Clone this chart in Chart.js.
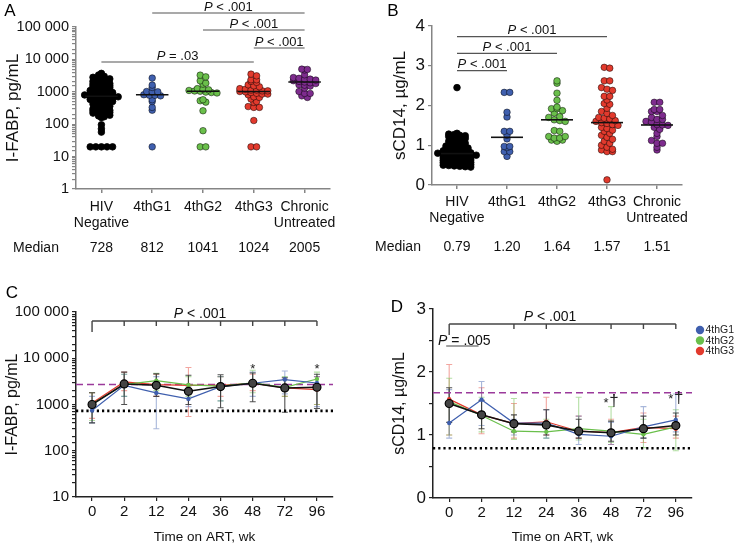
<!DOCTYPE html>
<html>
<head>
<meta charset="utf-8">
<script src="https://cdn.jsdelivr.net/npm/chart.js@4.4.1/dist/chart.umd.min.js"></script>
<style>
    body { margin: 0; background: #fff; width: 735px; height: 545px; position: relative; overflow: hidden; }
    canvas { position: absolute; }
</style>
</head>
<body>
<canvas id="panelA" width="365" height="270" style="left:0;top:0"></canvas>
<canvas id="panelB" width="370" height="270" style="left:365px;top:0"></canvas>
<canvas id="panelC" width="365" height="275" style="left:0;top:270px"></canvas>
<canvas id="panelD" width="370" height="275" style="left:365px;top:270px"></canvas>
<script>
// ---------- data ----------
const groupLabels = [["HIV", "Negative"], "4thG1", "4thG2", "4thG3", ["Chronic", "Untreated"]];

// A: I-FABP, pg/mL
const fabpHivNeg = [3700, 3300, 3000, 2800, 2700, 2600, 2500, 2400, 2300, 2200, 2100, 2000, 1900, 1800, 1750, 1700, 1600, 1550, 1500, 1450, 1400, 1350, 1300, 1250, 1200, 1150, 1100, 1050, 1000, 980, 950, 920, 900, 870, 850, 820, 800, 780, 760, 740, 728, 720, 700, 680, 660, 640, 620, 600, 580, 560, 540, 520, 500, 480, 460, 440, 420, 400, 380, 360, 340, 320, 300, 290, 280, 270, 260, 250, 240, 230, 220, 210, 200, 190, 180, 170, 160, 96, 72, 57, 20, 20, 20, 20, 20];
const fabpG1 = [2650, 1610, 1360, 1020, 1000, 1000, 812, 780, 780, 750, 570, 500, 330, 270, 20];
const fabpG2 = [3260, 2890, 2180, 1850, 1720, 1250, 1200, 1150, 1100, 1060, 1041, 980, 950, 920, 570, 530, 480, 260, 63, 20, 20];
const fabpG3 = [3500, 3110, 2350, 2350, 2100, 1950, 1640, 1530, 1430, 1250, 1200, 1130, 1130, 1070, 1070, 1024, 1000, 950, 900, 850, 850, 810, 700, 670, 600, 500, 470, 350, 330, 330, 130, 20, 20];
const fabpChronic = [5000, 4900, 4700, 3350, 2750, 2600, 2460, 2460, 2300, 2200, 2100, 2005, 1900, 1800, 1640, 1600, 1500, 1300, 1020, 890, 890, 750, 670];
const fabpMedians = [728, 812, 1041, 1024, 2005];

// B: sCD14, µg/mL
const cd14HivNeg = [2.45, 1.30, 1.28, 1.27, 1.25, 1.24, 1.22, 1.20, 1.18, 1.17, 1.15, 1.13, 1.12, 1.10, 1.08, 1.07, 1.05, 1.03, 1.02, 1.00, 0.98, 0.97, 0.95, 0.94, 0.93, 0.92, 0.90, 0.89, 0.88, 0.87, 0.86, 0.85, 0.84, 0.83, 0.82, 0.81, 0.80, 0.79, 0.79, 0.78, 0.78, 0.77, 0.76, 0.75, 0.74, 0.73, 0.72, 0.71, 0.70, 0.69, 0.68, 0.67, 0.66, 0.65, 0.64, 0.63, 0.62, 0.61, 0.60, 0.59, 0.58, 0.57, 0.56, 0.55, 0.54, 0.53, 0.52, 0.51, 0.50, 0.49, 0.48, 0.47, 0.46, 0.45];
const cd14G1 = [2.33, 2.33, 1.83, 1.71, 1.35, 1.35, 1.25, 1.16, 0.97, 0.94, 0.97, 0.84, 0.84, 0.72];
const cd14G2 = [2.62, 2.56, 2.31, 2.13, 1.96, 1.92, 1.92, 1.87, 1.81, 1.72, 1.70, 1.64, 1.62, 1.60, 1.37, 1.35, 1.22, 1.18, 1.13, 1.10, 1.13, 1.18, 1.22];
const cd14G3 = [2.96, 2.94, 2.62, 2.62, 2.45, 2.41, 2.38, 2.23, 2.23, 2.14, 2.05, 2.03, 1.93, 1.85, 1.80, 1.75, 1.70, 1.68, 1.66, 1.62, 1.60, 1.57, 1.55, 1.52, 1.50, 1.45, 1.42, 1.38, 1.35, 1.30, 1.25, 1.20, 1.15, 1.10, 1.05, 1.00, 0.95, 0.90, 0.88, 0.84, 0.84, 0.13];
const cd14Chronic = [2.08, 2.08, 1.90, 1.85, 1.90, 1.85, 1.75, 1.70, 1.65, 1.60, 1.65, 1.58, 1.52, 1.51, 1.50, 1.45, 1.40, 1.30, 1.22, 1.12, 1.05, 1.05, 0.95, 0.88];
const cd14Medians = [0.79, 1.20, 1.64, 1.57, 1.51];

// C and D: time on ART
const weeks = ["0", "2", "12", "24", "36", "48", "72", "96"];

const fabpAllWk = [1000, 2780, 2600, 1930, 2440, 2880, 2280, 2360];
const fabpAllLo = [400, 1000, 1500, 1000, 850, 1150, 680, 820];
const fabpAllHi = [1800, 5000, 4600, 4300, 4400, 4800, 3800, 4500];
const fabpG1Wk = [740, 2600, 1780, 1320, 2440, 2880, 3460, 2920];
const fabpG1Lo = [400, 1500, 300, 900, 1200, 1500, 1700, 900];
const fabpG1Hi = [1500, 4500, 4000, 2500, 4000, 5000, 5300, 4000];
const fabpG2Wk = [1030, 2700, 3290, 2650, 2500, 2950, 2350, 3560];
const fabpG2Lo = [450, 1500, 2000, 1500, 1200, 1800, 1500, 1000];
const fabpG2Hi = [1800, 4500, 4700, 4000, 4000, 5500, 4000, 5000];
const fabpG3Wk = [1080, 3070, 2700, 2600, 2600, 2880, 2280, 2100];
const fabpG3Lo = [500, 2000, 1500, 550, 1500, 2000, 1500, 1000];
const fabpG3Hi = [1800, 5000, 4500, 6300, 4000, 4500, 3500, 4000];
const fabpChronicRef = 2700;
const fabpHivNegRef = 728;

const cd14AllWk = [1.50, 1.32, 1.18, 1.16, 1.06, 1.035, 1.10, 1.15];
const cd14AllLo = [1.20, 1.10, 1.05, 1.00, 0.95, 0.90, 0.95, 1.00];
const cd14AllHi = [1.75, 1.55, 1.32, 1.40, 1.25, 1.22, 1.30, 1.35];
const cd14G1Wk = [1.19, 1.56, 1.19, 1.19, 1.01, 0.98, 1.13, 1.24];
const cd14G1Lo = [0.95, 1.15, 1.00, 0.95, 0.85, 0.85, 0.95, 1.05];
const cd14G1Hi = [1.72, 1.85, 1.25, 1.40, 1.30, 1.20, 1.45, 1.65];
const cd14G2Wk = [1.53, 1.31, 1.06, 1.05, 1.10, 1.06, 1.01, 1.13];
const cd14G2Lo = [1.00, 1.05, 0.93, 0.95, 0.92, 0.88, 0.80, 0.75];
const cd14G2Hi = [1.90, 1.60, 1.58, 1.25, 1.60, 1.45, 1.25, 1.40];
const cd14G3Wk = [1.57, 1.32, 1.18, 1.21, 1.06, 1.04, 1.12, 1.10];
const cd14G3Lo = [1.00, 1.02, 0.95, 1.00, 0.95, 0.85, 0.88, 0.95];
const cd14G3Hi = [2.12, 1.75, 1.50, 1.60, 1.30, 1.25, 1.35, 1.30];
const cd14ChronicRef = 1.67;
const cd14HivNegRef = 0.79;

// ---------- style ----------
const FONT = '"Liberation Sans", Arial, Helvetica, sans-serif';
Chart.defaults.font.family = FONT;
Chart.defaults.color = "#111";
const GRAY = "#858585";
const groupColors = ["#000000", "#3f5fae", "#6abf4b", "#e23a2d", "#7e2c8e"];
const BLUE = groupColors[1], GREEN = groupColors[2], RED = groupColors[3], PURPLE = "#9b3a9b";

// beeswarm: points in the same value band are spread sideways around the group centre
function swarm(values, center, band, toUnit) {
    const rows = {};
    values.forEach(v => {
        const k = Math.round(toUnit(v) / band);
        (rows[k] = rows[k] || []).push(v);
    });
    const pts = [];
    Object.values(rows).forEach(r => {
        r.forEach((v, i) => pts.push({ x: center + (i - (r.length - 1) / 2) * 0.11, y: v }));
    });
    return pts;
}

function isPow10(v) {
    const e = Math.log10(v);
    return Math.abs(e - Math.round(e)) < 1e-9;
}
function fmtLog(v) {
    if (!isPow10(v)) return "";
    return v >= 10000 ? v.toLocaleString("en-US").replace(/,/g, " ") : String(v);
}

// italic P followed by the rest, centred on x
function pLabel(ctx, x, y, rest, size) {
    ctx.save();
    ctx.fillStyle = "#111";
    ctx.textAlign = "left";
    ctx.textBaseline = "alphabetic";
    ctx.font = "italic " + size + "px " + FONT;
    const w1 = ctx.measureText("P").width;
    ctx.font = size + "px " + FONT;
    const w2 = ctx.measureText(rest).width;
    const x0 = x - (w1 + w2) / 2;
    ctx.font = "italic " + size + "px " + FONT;
    ctx.fillText("P", x0, y);
    ctx.font = size + "px " + FONT;
    ctx.fillText(rest, x0 + w1, y);
    ctx.restore();
}

function hLine(ctx, x1, x2, y, color, width) {
    ctx.beginPath();
    ctx.moveTo(x1, y);
    ctx.lineTo(x2, y);
    ctx.strokeStyle = color;
    ctx.lineWidth = width;
    ctx.stroke();
}

function letter(ctx, txt, x, y) {
    ctx.save();
    ctx.font = "17px " + FONT;
    ctx.fillStyle = "#000";
    ctx.textAlign = "center";
    ctx.textBaseline = "middle";
    ctx.fillText(txt, x, y);
    ctx.restore();
}

// ---------- dot plots (A, B) ----------
function dotPlot(id, cfg) {
    const datasets = cfg.groups.map((vals, i) => ({
        data: swarm(vals, i, cfg.bands[i], cfg.toUnit),
        backgroundColor: groupColors[i],
        borderColor: i === 0 ? "#000" : "rgba(0,0,0,0.6)",
        borderWidth: 0.8,
        pointRadius: 3.3,
    }));

    const notes = {
        id: "notes",
        afterDatasetsDraw(chart) {
            const { ctx, scales: { x, y } } = chart;
            ctx.save();
            // median bars
            cfg.medians.forEach((m, i) => {
                hLine(ctx, x.getPixelForValue(i - 0.32), x.getPixelForValue(i + 0.32), y.getPixelForValue(m), "#111", 1.6);
            });
            // significance bars
            cfg.sig.forEach(([a, b, py, txt]) => {
                const x1 = x.getPixelForValue(a), x2 = x.getPixelForValue(b);
                hLine(ctx, x1, x2, py, "#555", 1.2);
                pLabel(ctx, (x1 + x2) / 2, py - 2.5, txt, 13);
            });
            // median row
            ctx.font = "14px " + FONT;
            ctx.fillStyle = "#111";
            ctx.textBaseline = "middle";
            ctx.textAlign = "left";
            ctx.fillText("Median", cfg.medianX, cfg.medianY);
            ctx.textAlign = "center";
            cfg.medians.forEach((m, i) => ctx.fillText(cfg.fmtMedian(m), x.getPixelForValue(i), cfg.medianY));
            ctx.restore();
            letter(ctx, cfg.letter[0], cfg.letter[1], cfg.letter[2]);
        },
    };

    new Chart(document.getElementById(id), {
        type: "scatter",
        data: { datasets },
        options: {
            responsive: false,
            animation: false,
            devicePixelRatio: 1,
            layout: { padding: cfg.padding },
            plugins: { legend: { display: false }, tooltip: { enabled: false } },
            scales: {
                x: {
                    type: "linear",
                    min: -0.5,
                    max: 4.5,
                    afterBuildTicks: s => { s.ticks = groupLabels.map((_, i) => ({ value: i })); },
                    afterFit: s => { s.height = cfg.xHeight; },
                    border: { color: GRAY, width: 1.5 },
                    grid: { drawOnChartArea: false, drawTicks: true, tickLength: 4, color: GRAY, lineWidth: 1.5 },
                    ticks: {
                        autoSkip: false,
                        maxRotation: 0,
                        padding: cfg.xPad,
                        font: { size: 14, lineHeight: 1.15 },
                        color: "#111",
                        callback: v => groupLabels[Math.round(v)],
                    },
                },
                y: Object.assign({
                    afterFit: s => { s.width = cfg.yWidth; },
                    border: { color: GRAY, width: 1.5 },
                    grid: { drawOnChartArea: false, drawTicks: true, tickLength: 4, color: GRAY, lineWidth: 1.2 },
                    title: { display: true, text: cfg.yTitle, font: { size: 17 }, padding: { top: cfg.titlePad, bottom: 0 }, color: "#111" },
                }, cfg.y),
            },
        },
        plugins: [notes],
    });
}

dotPlot("panelA", {
    groups: [fabpHivNeg, fabpG1, fabpG2, fabpG3, fabpChronic],
    medians: fabpMedians,
    fmtMedian: m => String(m),
    bands: [0.07, 0.1, 0.1, 0.11, 0.11],
    toUnit: Math.log10,
    padding: { top: 27, right: 35, left: 0, bottom: 0 },
    xHeight: 81,
    xPad: 6,
    yWidth: 76,
    titlePad: 3,
    yTitle: "I-FABP, pg/mL",
    y: {
        type: "logarithmic",
        min: 1,
        max: 100000,
        ticks: { autoSkip: false, padding: 3, font: { size: 14.5 }, color: "#111", callback: fmtLog },
    },
    sig: [[1, 4, 13, " < .001"], [2, 4, 30, " < .001"], [3, 4, 48, " < .001"], [0, 3, 62, " = .03"]],
    medianX: 13,
    medianY: 248,
    letter: ["A", 10, 11],
});

dotPlot("panelB", {
    groups: [cd14HivNeg, cd14G1, cd14G2, cd14G3, cd14Chronic],
    medians: cd14Medians,
    fmtMedian: m => m.toFixed(2),
    bands: [0.06, 0.1, 0.11, 0.12, 0.12],
    toUnit: v => v,
    padding: { top: 26, right: 53, left: 0, bottom: 0 },
    xHeight: 85,
    xPad: 5,
    yWidth: 67,
    titlePad: 25,
    yTitle: "sCD14, µg/mL",
    y: {
        type: "linear",
        min: 0,
        max: 4,
        ticks: { stepSize: 1, padding: 3, font: { size: 17 }, color: "#111" },
    },
    sig: [[0, 1, 70.7, " < .001"], [0, 2, 53.3, " < .001"], [0, 3, 36.7, " < .001"]],
    medianX: 10,
    medianY: 247,
    letter: ["B", 28, 11],
});

// ---------- time courses (C, D) ----------
function timeChart(id, cfg) {
    const lines = [
        { label: "All", data: cfg.all, color: "#111", err: "rgba(50,50,50,0.85)" },
        { label: "4thG1", data: cfg.g1, color: BLUE, err: "rgba(63,95,174,0.45)" },
        { label: "4thG2", data: cfg.g2, color: GREEN, err: "rgba(106,191,75,0.5)" },
        { label: "4thG3", data: cfg.g3, color: RED, err: "rgba(226,58,45,0.45)" },
    ];
    const datasets = lines.map((s, i) => ({
        label: s.label,
        data: s.data,
        borderColor: s.color,
        borderWidth: i === 0 ? 1.6 : 1.2,
        pointRadius: i === 0 ? 4 : 2.2,
        pointBackgroundColor: i === 0 ? "#444" : s.color,
        pointBorderColor: i === 0 ? "#000" : s.color,
        pointBorderWidth: i === 0 ? 1.2 : 0,
        tension: 0,
    }));

    const extras = {
        id: "extras",
        beforeDatasetsDraw(chart) {
            const { ctx, chartArea: a, scales: { x, y } } = chart;
            ctx.save();
            // error bars (drawn under the lines)
            [3, 2, 1, 0].forEach(k => {
                const lo = cfg.errs[k][0], hi = cfg.errs[k][1];
                ctx.strokeStyle = lines[k].err;
                ctx.lineWidth = 1.1;
                lo.forEach((l, i) => {
                    const px = x.getPixelForValue(i), y1 = y.getPixelForValue(l), y2 = y.getPixelForValue(hi[i]);
                    ctx.beginPath();
                    ctx.moveTo(px, y1); ctx.lineTo(px, y2);
                    ctx.moveTo(px - 3, y1); ctx.lineTo(px + 3, y1);
                    ctx.moveTo(px - 3, y2); ctx.lineTo(px + 3, y2);
                    ctx.stroke();
                });
            });
            // reference lines: chronic untreated (dashed) and HIV negative (dotted)
            ctx.setLineDash([7, 4]);
            hLine(ctx, a.left, a.right, y.getPixelForValue(cfg.chronicRef), PURPLE, 1.5);
            ctx.setLineDash([2.2, 3]);
            hLine(ctx, a.left, a.right, y.getPixelForValue(cfg.hivNegRef), "#000", 2.6);
            ctx.setLineDash([]);
            ctx.restore();
        },
        afterDraw(chart) {
            const { ctx, chartArea: a, scales: { x, y } } = chart;
            ctx.save();
            // bracket across all weeks
            const by = a.top + cfg.bracketY;
            const x0 = x.getPixelForValue(0), x7 = x.getPixelForValue(weeks.length - 1);
            hLine(ctx, x0, x7, by, "#444", 1.4);
            ctx.beginPath();
            cfg.bracketTicks.forEach(i => {
                const px = x.getPixelForValue(i);
                ctx.moveTo(px, by);
                ctx.lineTo(px, by + (i === 0 ? 11 : 5));
            });
            ctx.stroke();
            pLabel(ctx, cfg.pX, by - 3, " < .001", 14);
            if (cfg.early) {
                const ey = a.top + cfg.early;
                hLine(ctx, x.getPixelForValue(0) - 3, x.getPixelForValue(1) - 3, ey, "#444", 1.2);
                pLabel(ctx, (x.getPixelForValue(0) + x.getPixelForValue(1)) / 2 - 1, ey - 1, " = .005", 14);
            }
            // significance marks
            ctx.fillStyle = "#222";
            ctx.textBaseline = "middle";
            ctx.textAlign = "center";
            cfg.marks.forEach(([i, v]) => {
                const px = x.getPixelForValue(i), py = y.getPixelForValue(v);
                if (cfg.dagger) {
                    ctx.font = "13px " + FONT;
                    ctx.fillText("*", px - 5, py + 2);
                    ctx.font = "17px " + FONT;
                    ctx.fillText("†", px + 3, py);
                } else {
                    ctx.font = "13px " + FONT;
                    ctx.fillText("*", px, py);
                }
            });
            // legend
            if (cfg.legend) {
                ctx.font = "10.5px " + FONT;
                ctx.textAlign = "left";
                [1, 2, 3].forEach((k, j) => {
                    const ly = cfg.legend[1] + j * 10.5;
                    ctx.beginPath();
                    ctx.arc(cfg.legend[0], ly, 4.2, 0, Math.PI * 2);
                    ctx.fillStyle = lines[k].color;
                    ctx.fill();
                    ctx.fillStyle = "#222";
                    ctx.fillText(lines[k].label, cfg.legend[0] + 5.5, ly + 0.5);
                });
            }
            ctx.restore();
            letter(ctx, cfg.letter[0], cfg.letter[1], cfg.letter[2]);
        },
    };

    new Chart(document.getElementById(id), {
        type: "line",
        data: { labels: weeks, datasets },
        options: {
            responsive: false,
            animation: false,
            devicePixelRatio: 1,
            layout: { padding: cfg.padding },
            plugins: { legend: { display: false }, tooltip: { enabled: false } },
            scales: {
                x: {
                    offset: true,
                    afterFit: s => { s.height = cfg.xHeight; },
                    border: { color: "#222", width: 1.5 },
                    grid: { offset: false, drawOnChartArea: false, drawTicks: true, tickLength: 4, color: "#222", lineWidth: 1.2 },
                    ticks: { padding: 2, font: { size: 15 }, color: "#111", maxRotation: 0 },
                    title: { display: true, text: "Time on ART, wk", font: { size: 13.5 }, color: "#111", padding: { top: 0, bottom: 0 } },
                },
                y: Object.assign({
                    afterFit: s => { s.width = cfg.yWidth; },
                    border: { color: "#222", width: 1.5 },
                    grid: { drawOnChartArea: false, drawTicks: true, tickLength: 4, color: "#222", lineWidth: 1.2 },
                    title: { display: true, text: cfg.yTitle, font: { size: 16 }, padding: { top: cfg.titlePad, bottom: 0 }, color: "#111" },
                }, cfg.y),
            },
        },
        plugins: [extras],
    });
}

timeChart("panelC", {
    all: fabpAllWk, g1: fabpG1Wk, g2: fabpG2Wk, g3: fabpG3Wk,
    errs: [[fabpAllLo, fabpAllHi], [fabpG1Lo, fabpG1Hi], [fabpG2Lo, fabpG2Hi], [fabpG3Lo, fabpG3Hi]],
    chronicRef: fabpChronicRef,
    hivNegRef: fabpHivNegRef,
    padding: { top: 42, right: 32, left: 0, bottom: 0 },
    xHeight: 48,
    yWidth: 76,
    titlePad: 2.5,
    yTitle: "I-FABP, pg/mL",
    y: {
        type: "logarithmic",
        min: 10,
        max: 100000,
        ticks: { autoSkip: false, padding: 3, font: { size: 15 }, color: "#111", callback: fmtLog },
    },
    bracketY: 9,
    bracketTicks: [0, 1, 2, 3, 4, 5, 6, 7],
    pX: 200,
    marks: [[5, 5800], [7, 5800]],
    dagger: false,
    letter: ["C", 12, 23],
});

timeChart("panelD", {
    all: cd14AllWk, g1: cd14G1Wk, g2: cd14G2Wk, g3: cd14G3Wk,
    errs: [[cd14AllLo, cd14AllHi], [cd14G1Lo, cd14G1Hi], [cd14G2Lo, cd14G2Hi], [cd14G3Lo, cd14G3Hi]],
    chronicRef: cd14ChronicRef,
    hivNegRef: cd14HivNegRef,
    padding: { top: 39, right: 43, left: 0, bottom: 0 },
    xHeight: 47,
    yWidth: 68,
    titlePad: 25,
    yTitle: "sCD14, µg/mL",
    y: {
        type: "linear",
        min: 0,
        max: 3,
        ticks: { stepSize: 0.5, autoSkip: false, padding: 3, font: { size: 17 }, color: "#111", callback: v => (Number.isInteger(v) ? v : "") },
    },
    bracketY: 15,
    bracketTicks: [0, 2, 3, 5, 6, 7],
    pX: 185,
    early: 37,
    marks: [[5, 1.53], [7, 1.59]],
    dagger: true,
    legend: [335, 60],
    letter: ["D", 32, 37],
});
</script>
</body>
</html>
